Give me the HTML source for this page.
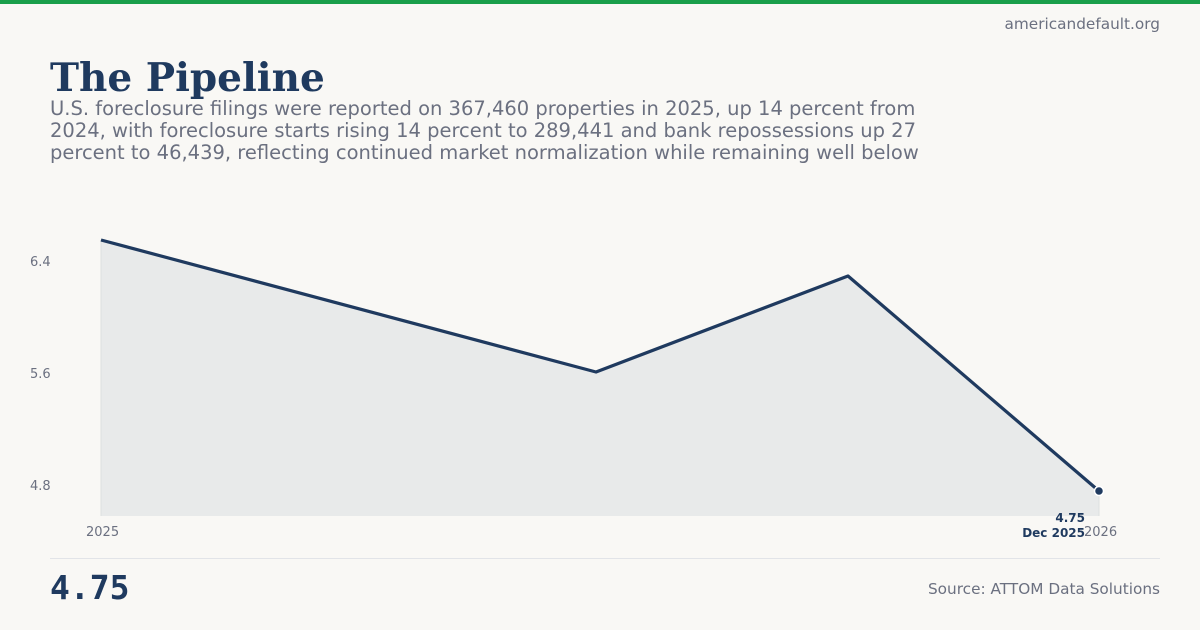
<!DOCTYPE html>
<html><head><meta charset="utf-8"><style>
body{margin:0;width:1200px;height:630px;background:#f9f8f5;position:relative;overflow:hidden;font-family:"DejaVu Sans","Liberation Sans",sans-serif}
.bar{position:absolute;top:0;left:0;width:1200px;height:4px;background:#1a9f4b}
.site{position:absolute;top:15px;right:40px;font-size:15.3px;color:#6b7080}
h1{position:absolute;left:50px;top:56px;margin:0;font-family:"DejaVu Serif","Liberation Serif",serif;font-weight:bold;font-size:39px;color:#1f3a5f;line-height:44px}
.sub{position:absolute;left:50px;top:98px;width:905px;font-size:19.5px;line-height:22px;color:#6b7080}
.big{position:absolute;left:50px;top:568px;font-family:"DejaVu Sans Mono","Liberation Mono",monospace;font-weight:bold;font-size:33px;color:#1f3a5f}
.src{position:absolute;right:40px;top:580px;font-size:15.3px;color:#6b7080}
.hr{position:absolute;left:50px;top:558px;width:1110px;height:1px;background:#e2e4e8}
</style></head><body>
<div class="bar"></div>
<div class="site">americandefault.org</div>
<h1>The Pipeline</h1>
<div class="sub">U.S. foreclosure filings were reported on 367,460 properties in 2025, up 14 percent from 2024, with foreclosure starts rising 14 percent to 289,441 and bank repossessions up 27 percent to 46,439, reflecting continued market normalization while remaining well below</div>
<svg width="1200" height="630" style="position:absolute;left:0;top:0" font-family="DejaVu Sans, Liberation Sans, sans-serif">
<g font-size="13" fill="#6b7080">
<text x="30" y="266">6.4</text><text x="30" y="378">5.6</text><text x="30" y="490">4.8</text>
<text x="86" y="536">2025</text><text x="1084" y="536">2026</text>
</g>
<path d="M101,240 L596,372 L848,276 L1099,491 L1099,516 L101,516 Z" fill="#e8eaea"/>
<line x1="101" y1="240" x2="101" y2="516" stroke="#dde0e0"/>
<line x1="1099" y1="491" x2="1099" y2="516" stroke="#dde0e0"/>
<path d="M101,240 L596,372 L848,276 L1099,491" fill="none" stroke="#1f3a5f" stroke-width="3.2" stroke-linejoin="round"/>
<circle cx="1099" cy="491" r="4.5" fill="#1f3a5f" stroke="#fff" stroke-width="1.5"/>
<g font-size="12" font-weight="bold" fill="#1f3a5f" text-anchor="end">
<text x="1085" y="522">4.75</text><text x="1085" y="537">Dec 2025</text>
</g>
</svg>
<div class="hr"></div>
<div class="big">4.75</div>
<div class="src">Source: ATTOM Data Solutions</div>
</body></html>
